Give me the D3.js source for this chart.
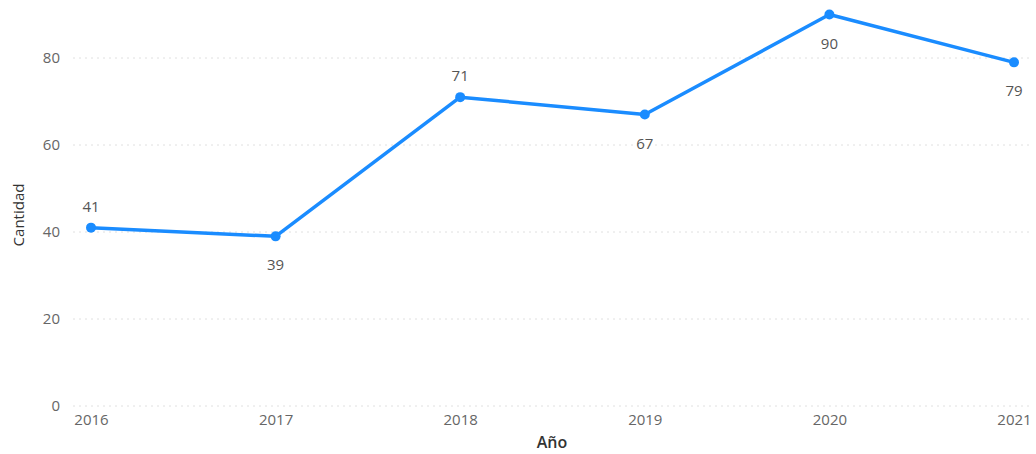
<!DOCTYPE html>
<html><head><meta charset="utf-8">
<script src="https://cdn.jsdelivr.net/npm/d3@7"></script>
<style>body{margin:0;background:#fff;}svg{display:block;}</style>
</head><body>
<svg id="c" width="1036" height="454"></svg>
<script>
const years = ["2016","2017","2018","2019","2020","2021"];
const values = [41, 39, 71, 67, 90, 79];
const labelPos = ["above","below","above","below","below","below"];
const yTicks = [0, 20, 40, 60, 80];
const yTitle = "Cantidad";
const xTitle = "Año";

const svg = d3.select("#c");
const font = "'Segoe UI', 'Open Sans', 'DejaVu Sans', sans-serif";
const x = d3.scalePoint().domain(years).range([91, 1014]);
const y = d3.scaleLinear().domain([0, 90]).range([406, 14.5]);

// gridlines
svg.append("g").selectAll("line").data(yTicks).join("line")
  .attr("x1", 73).attr("x2", 1032)
  .attr("y1", d => y(d)).attr("y2", d => y(d))
  .attr("stroke", "#e0e0e0").attr("stroke-width", 1)
  .attr("stroke-dasharray", "2,4");

// y axis labels
const ya = svg.append("g").attr("transform", "translate(60,0)")
  .call(d3.axisLeft(y).tickValues(yTicks).tickSize(0).tickPadding(0));
ya.select(".domain").remove();
ya.selectAll("text").attr("font-family", font).attr("font-size", 15).attr("fill", "#666");

// x axis labels
const xa = svg.append("g").attr("transform", "translate(0,412)")
  .call(d3.axisBottom(x).tickSize(0).tickPadding(2));
xa.select(".domain").remove();
xa.selectAll("text").attr("font-family", font).attr("font-size", 15).attr("fill", "#666");

// titles
svg.append("text").attr("transform", "translate(24,215) rotate(-90)")
  .attr("text-anchor", "middle").attr("font-family", font).attr("font-size", 15)
  .attr("fill", "#333").text(yTitle);
svg.append("text").attr("x", 552).attr("y", 448)
  .attr("text-anchor", "middle").attr("font-family", font).attr("font-size", 16)
  .attr("font-weight", 600).attr("fill", "#333").text(xTitle);

// line
const line = d3.line().x((d, i) => x(years[i])).y(d => y(d));
svg.append("path").datum(values).attr("d", line)
  .attr("fill", "none").attr("stroke", "#1a8cff").attr("stroke-width", 3.5)
  .attr("stroke-linejoin", "round");

svg.append("g").selectAll("circle").data(values).join("circle")
  .attr("cx", (d, i) => x(years[i])).attr("cy", d => y(d)).attr("r", 5)
  .attr("fill", "#1a8cff");

svg.append("g").selectAll("text").data(values).join("text")
  .attr("x", (d, i) => x(years[i]))
  .attr("y", (d, i) => labelPos[i] === "above" ? y(d) - 16 : y(d) + 34)
  .attr("text-anchor", "middle").attr("font-family", font).attr("font-size", 15)
  .attr("fill", "#555").text(d => d);
</script>
</body></html>
